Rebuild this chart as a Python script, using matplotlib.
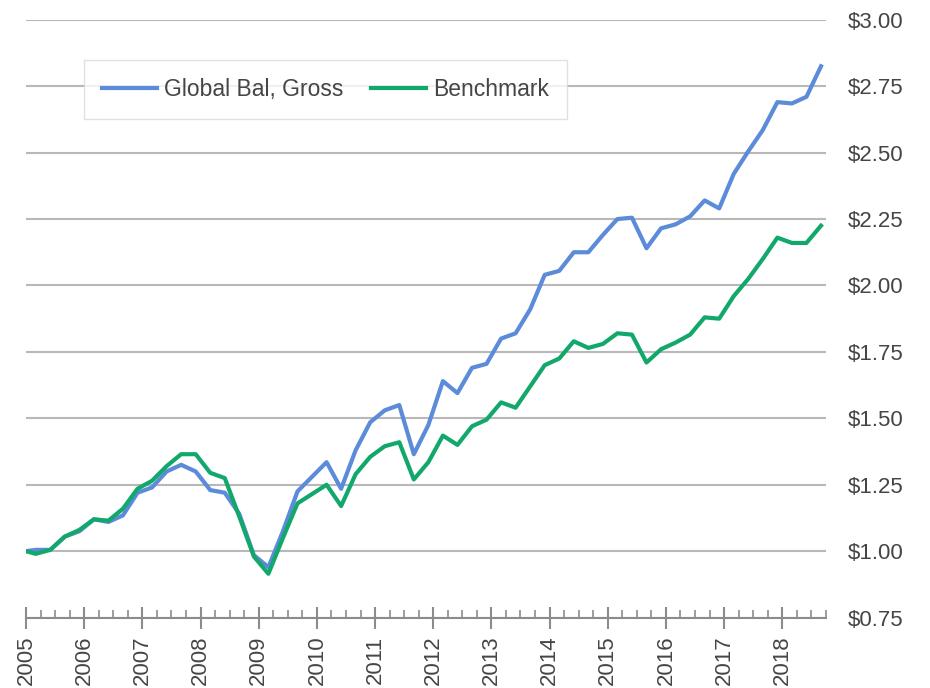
import matplotlib
matplotlib.use("Agg")
import matplotlib.pyplot as plt
from matplotlib.ticker import MultipleLocator, FuncFormatter

# quarter-end observations (plotted at start of month, like the source chart)
dates = ["2005-01",
         "2005-03", "2005-06", "2005-09", "2005-12",
         "2006-03", "2006-06", "2006-09", "2006-12",
         "2007-03", "2007-06", "2007-09", "2007-12",
         "2008-03", "2008-06", "2008-09", "2008-12",
         "2009-03", "2009-06", "2009-09", "2009-12",
         "2010-03", "2010-06", "2010-09", "2010-12",
         "2011-03", "2011-06", "2011-09", "2011-12",
         "2012-03", "2012-06", "2012-09", "2012-12",
         "2013-03", "2013-06", "2013-09", "2013-12",
         "2014-03", "2014-06", "2014-09", "2014-12",
         "2015-03", "2015-06", "2015-09", "2015-12",
         "2016-03", "2016-06", "2016-09", "2016-12",
         "2017-03", "2017-06", "2017-09", "2017-12",
         "2018-03", "2018-06", "2018-09"]

global_bal = [1.00,
              1.005, 1.005, 1.055, 1.075,
              1.12, 1.11, 1.135, 1.22,
              1.24, 1.30, 1.325, 1.30,
              1.23, 1.22, 1.14, 0.985,
              0.94, 1.075, 1.225, 1.28,
              1.335, 1.235, 1.38, 1.485,
              1.53, 1.55, 1.365, 1.475,
              1.64, 1.595, 1.69, 1.705,
              1.80, 1.82, 1.91, 2.04,
              2.055, 2.125, 2.125, 2.19,
              2.25, 2.255, 2.14, 2.215,
              2.23, 2.26, 2.32, 2.29,
              2.42, 2.505, 2.585, 2.69,
              2.685, 2.71, 2.825]

benchmark = [1.00,
             0.99, 1.005, 1.055, 1.08,
             1.12, 1.115, 1.16, 1.235,
             1.265, 1.32, 1.365, 1.365,
             1.295, 1.275, 1.13, 0.98,
             0.915, 1.05, 1.18, 1.215,
             1.25, 1.17, 1.29, 1.355,
             1.395, 1.41, 1.27, 1.335,
             1.435, 1.40, 1.47, 1.495,
             1.56, 1.54, 1.62, 1.70,
             1.725, 1.79, 1.765, 1.78,
             1.82, 1.815, 1.71, 1.76,
             1.785, 1.815, 1.88, 1.875,
             1.96, 2.025, 2.10, 2.18,
             2.16, 2.16, 2.225]

years = list(range(2005, 2019))

# fractional year position of each date
x = [int(d[:4]) + (int(d[5:]) - 1) / 12 for d in dates]

plt.rcParams['font.family'] = ['Liberation Sans', 'DejaVu Sans']
text_col = '#454545'
fs = 16

fig = plt.figure(figsize=(9.3, 6.88), dpi=100)
ax = fig.add_axes([0.028, 0.1023, 0.860, 0.869])

ax.plot(x, global_bal, color='#5B8BD9', lw=3, label='Global Bal, Gross')
ax.plot(x, benchmark, color='#13A86B', lw=3, label='Benchmark')

ax.set_xlim(2005, 2018.75)
ax.set_ylim(0.75, 3.00)

# y axis on the right, no tick marks
ax.yaxis.tick_right()
ax.yaxis.set_major_locator(MultipleLocator(0.25))
ax.yaxis.set_major_formatter(FuncFormatter(lambda v, p: f'${v:.2f}'))
ax.tick_params(axis='y', length=0, pad=16, labelsize=fs, labelcolor=text_col)
ax.grid(axis='y', color='#b8b8b8', lw=1.5)
ax.set_axisbelow(True)

# x axis: yearly labels, quarterly minor ticks
ax.set_xticks(years)
ax.set_xticklabels([str(y) for y in years], rotation=90)
ax.xaxis.set_minor_locator(MultipleLocator(0.25))
ax.tick_params(axis='x', which='major', direction='inout', length=16, width=1.5,
               color='#8c8c8c', pad=5, labelsize=fs, labelcolor=text_col)
ax.tick_params(axis='x', which='minor', direction='in', length=6, width=1.2, color='#8c8c8c')

for s in ['left', 'right', 'top']:
    ax.spines[s].set_visible(False)
ax.spines['bottom'].set_color('#8c8c8c')
ax.spines['bottom'].set_linewidth(1.5)

leg = ax.legend(loc='upper left', bbox_to_anchor=(0.0725, 0.933), borderaxespad=0,
                ncol=2, fontsize=16.5, frameon=True, fancybox=False,
                handlelength=2.4, handletextpad=0.3, columnspacing=1.2, borderpad=0.8)
leg.get_frame().set_edgecolor('#d9d9d9')
leg.get_frame().set_linewidth(1.0)
for t in leg.get_texts():
    t.set_color(text_col)

fig.savefig('out.png', dpi=100)
